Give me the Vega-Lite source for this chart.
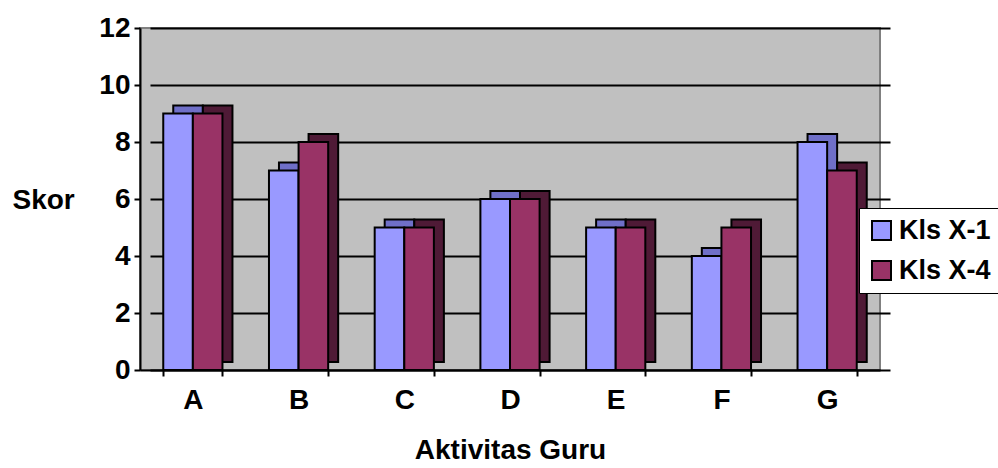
{
  "$schema": "https://vega.github.io/schema/vega-lite/v6.json",
  "width": 740,
  "height": 342,
  "autosize": {"type": "none"},
  "padding": {"left": 140, "top": 28, "right": 118, "bottom": 98},
  "background": "white",
  "config": {
    "view": {"fill": "#C0C0C0", "stroke": "#808080", "strokeWidth": 2},
    "font": "Liberation Sans"
  },
  "data": {
    "values": [
      {"aktivitas": "A", "kelas": "Kls X-1", "skor": 9},
      {"aktivitas": "A", "kelas": "Kls X-4", "skor": 9},
      {"aktivitas": "B", "kelas": "Kls X-1", "skor": 7},
      {"aktivitas": "B", "kelas": "Kls X-4", "skor": 8},
      {"aktivitas": "C", "kelas": "Kls X-1", "skor": 5},
      {"aktivitas": "C", "kelas": "Kls X-4", "skor": 5},
      {"aktivitas": "D", "kelas": "Kls X-1", "skor": 6},
      {"aktivitas": "D", "kelas": "Kls X-4", "skor": 6},
      {"aktivitas": "E", "kelas": "Kls X-1", "skor": 5},
      {"aktivitas": "E", "kelas": "Kls X-4", "skor": 5},
      {"aktivitas": "F", "kelas": "Kls X-1", "skor": 4},
      {"aktivitas": "F", "kelas": "Kls X-4", "skor": 5},
      {"aktivitas": "G", "kelas": "Kls X-1", "skor": 8},
      {"aktivitas": "G", "kelas": "Kls X-4", "skor": 7}
    ]
  },
  "encoding": {
    "xOffset": {"field": "kelas", "type": "nominal", "scale": {"paddingInner": 0, "paddingOuter": 0}},
    "y": {
      "field": "skor", "type": "quantitative",
      "scale": {"domain": [0, 12], "nice": false},
      "axis": {
        "title": "Skor", "titleAngle": 0, "titleFontSize": 28, "titleFontWeight": "bold", "titleColor": "black",
        "titleX": -128, "titleY": 172, "titleAlign": "left", "titleBaseline": "middle",
        "values": [0, 2, 4, 6, 8, 10, 12], "labelFontSize": 28, "labelFontWeight": "bold", "labelColor": "black",
        "labelPadding": 4,
        "grid": true, "gridColor": "black", "gridWidth": 2,
        "domainColor": "black", "domainWidth": 2,
        "tickColor": "black", "tickWidth": 2, "tickSize": 6
      }
    }
  },
  "layer": [
    {
      "mark": {"type": "bar", "yOffset": -8, "stroke": "black", "strokeWidth": 2},
      "encoding": {
        "x": {
          "field": "aktivitas", "type": "nominal",
          "scale": {"paddingInner": 0.44, "paddingOuter": 0.22, "range": [10, 750]},
          "axis": null
        },
        "fill": {
          "field": "kelas", "type": "nominal",
          "scale": {"domain": ["Kls X-1", "Kls X-4"], "range": ["#6F6FC8", "#4F1A36"]},
          "legend": null
        }
      }
    },
    {
      "mark": {"type": "bar", "stroke": "black", "strokeWidth": 2},
      "encoding": {
        "x": {
          "field": "aktivitas", "type": "nominal",
          "scale": {"paddingInner": 0.44, "paddingOuter": 0.22},
          "axis": {
            "title": "Aktivitas Guru", "titleFontSize": 28, "titleFontWeight": "bold",
            "titleY": 80, "titleBaseline": "middle", "titleColor": "black",
            "labelAngle": 0, "labelFontSize": 28, "labelFontWeight": "bold", "labelColor": "black",
            "labelPadding": 10, "domainColor": "black", "domainWidth": 2,
            "tickBand": "extent", "tickColor": "black", "tickWidth": 2, "tickSize": 6
          }
        },
        "fill": {
          "field": "kelas", "type": "nominal",
          "scale": {"domain": ["Kls X-1", "Kls X-4"], "range": ["#9999FF", "#993366"]},
          "legend": {
            "title": null, "orient": "none", "legendX": 719, "legendY": 180,
            "fillColor": "white", "strokeColor": "black",
            "padding": 9, "rowPadding": 12, "labelOffset": 4,
            "symbolType": "square", "symbolSize": 361, "symbolStrokeColor": "black", "symbolStrokeWidth": 2,
            "labelFontSize": 27, "labelFontWeight": "bold", "labelColor": "black", "labelLimit": 200
          }
        }
      }
    }
  ],
  "resolve": {"scale": {"x": "independent", "fill": "independent"}, "axis": {"x": "independent"}, "legend": {"fill": "independent"}}
}
